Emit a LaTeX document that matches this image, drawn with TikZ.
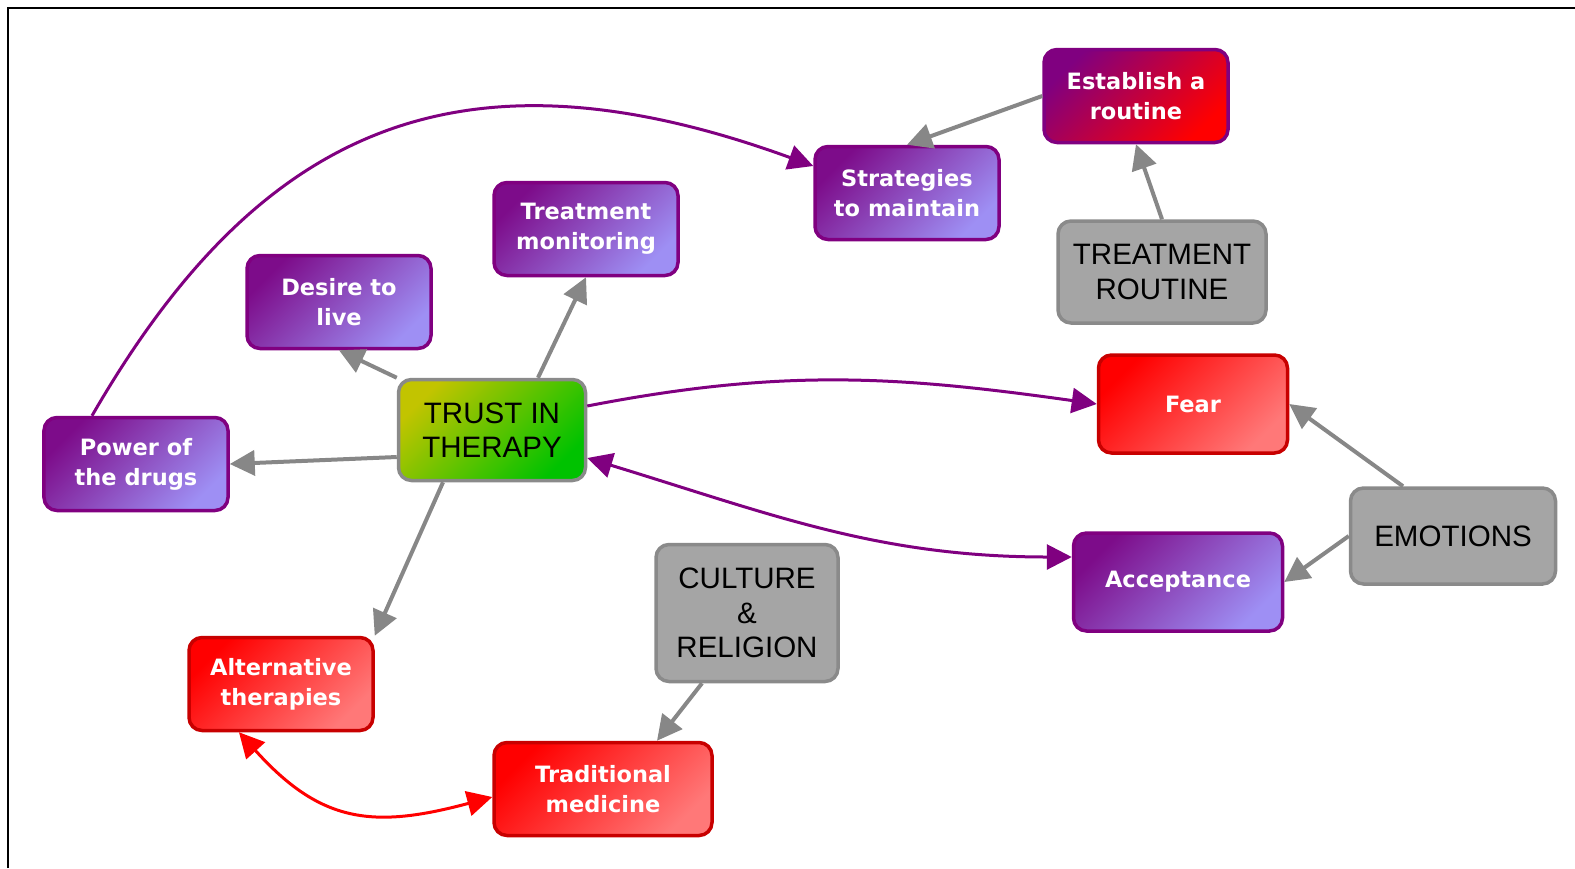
\documentclass[tikz,border=0pt]{standalone}
\usepackage{fontspec}
\setmainfont{Liberation Sans}
\newfontfamily\policeblanche{DejaVu Sans}
\usetikzlibrary{arrows.meta,calc}
\definecolor{violetfonce}{HTML}{7D0C8A}
\definecolor{lavande}{HTML}{9E8FF4}
\definecolor{bordviolet}{HTML}{800080}
\definecolor{rougevif}{HTML}{FF0000}
\definecolor{rougeclair}{HTML}{FF7878}
\definecolor{bordrouge}{HTML}{C80000}
\definecolor{grisfond}{HTML}{A5A5A5}
\definecolor{grisbord}{HTML}{8A8A8A}
\definecolor{grisfleche}{HTML}{878787}
\definecolor{vertjaune}{HTML}{C2C400}
\definecolor{vertvif}{HTML}{00C200}
\begin{document}
\begin{tikzpicture}[x=0.2mm,y=0.2mm]
			\tikzstyle{bulle}=[rounded corners=2.6mm,line width=0.7mm,align=center,inner sep=0pt,minimum width=36.8mm,minimum height=18.6mm]
			\tikzstyle{bulleviolette}=[bulle,draw=bordviolet,top color=violetfonce,bottom color=lavande,shading angle=45,text=white,font=\policeblanche\bfseries\fontsize{12.8}{17}\selectfont]
			\tikzstyle{bullerouge}=[bulle,draw=bordrouge,top color=rougevif,bottom color=rougeclair,shading angle=45,text=white,font=\policeblanche\bfseries\fontsize{12.8}{17}\selectfont]
			\tikzstyle{bullegrise}=[bulle,draw=grisbord,fill=grisfond,text=black,font=\fontsize{16.8}{19.6}\selectfont]
			\tikzstyle{fleche}=[line width=0.8mm,draw=grisfleche,-{Triangle[length=5mm,width=5mm]}]
			\tikzstyle{flecheviolette}=[line width=0.6mm,draw=bordviolet,-{Triangle[length=5mm,width=5mm]}]
			\tikzstyle{flecherouge}=[line width=0.6mm,draw=rougevif,{Triangle[length=5mm,width=5mm]}-{Triangle[length=5mm,width=5mm]}]
			\useasboundingbox (0,0) rectangle (1575,-868);
			\draw[line width=0.5mm] (8,-868)--(8,-8)--(1575,-8);
			\node[bulle,draw=grisbord,top color=vertjaune,bottom color=vertvif,shading angle=45,font=\fontsize{16.8}{19.6}\selectfont,minimum width=37.4mm,minimum height=20.2mm] (Trust) at (492,-430) {TRUST IN\\THERAPY};
			\node[bulleviolette] (Monit) at (586,-229) {Treatment\\monitoring};
			\node[bulleviolette] (Desire) at (339,-302) {Desire to\\live};
			\node[bulleviolette] (Power) at (136,-464) {Power of\\the drugs};
			\node[bulleviolette] (Strat) at (907,-193) {Strategies\\to maintain};
			\node[bulle,draw=bordviolet,top color=bordviolet,bottom color=red,shading angle=45,text=white,font=\policeblanche\bfseries\fontsize{12.8}{17}\selectfont] (Estab) at (1136,-96) {Establish a\\routine};
			\node[bullegrise,minimum width=41.6mm,minimum height=20.4mm] (Routine) at (1162,-272) {TREATMENT\\ROUTINE};
			\node[bullerouge,minimum width=37.8mm,minimum height=19.6mm] (Fear) at (1193,-404) {Fear};
			\node[bulleviolette,minimum width=41.8mm,minimum height=19.6mm] (Accept) at (1178,-582) {Acceptance};
			\node[bullegrise,minimum width=41mm,minimum height=19.2mm] (Emot) at (1453,-536) {EMOTIONS};
			\node[bullerouge] (Alt) at (281,-684) {Alternative\\therapies};
			\node[bullerouge,minimum width=43.6mm] (Trad) at (603,-789) {Traditional\\medicine};
			\node[bullegrise,minimum width=36.4mm,minimum height=27.4mm] (Culture) at (747,-613) {CULTURE\\\&\\RELIGION};
			\draw[fleche] (Routine.north)--(Estab.south);
			\draw[fleche] (Estab.west)--(Strat.north);
			\draw[fleche] ($(Trust.north)+(46,0)$)--(Monit.south);
			\draw[fleche] (Trust.north west)--(Desire.south);
			\draw[fleche] ($(Trust.west)+(0,-27)$)--(Power.east);
			\draw[fleche] ($(Trust.south)+(-49,0)$)--(Alt.north east);
			\draw[fleche] ($(Culture.south)+(-45,0)$)--($(Trad.north)+(54,0)$);
			\draw[fleche] ($(Emot.north)+(-50,0)$)--(Fear.east);
			\draw[fleche] (Emot.west)--(Accept.east);
			\draw[flecheviolette] ($(Trust.east)+(0,24)$) to[out=11,in=172] (Fear.west);
			\draw[flecheviolette,{Triangle[length=5mm,width=5mm]}-{Triangle[length=5mm,width=5mm]}] ($(Trust.east)+(0,-28)$) to[out=-17,in=180] ($(Accept.west)+(0,25)$);
			\draw[flecheviolette] ($(Power.north)+(-44,0)$) .. controls +(60:330) and +(160:380) .. ($(Strat.west)+(0,27)$);
			\draw[flecherouge] ($(Alt.south)+(-42,0)$) to[out=-48,in=195,looseness=1.2] ($(Trad.west)+(0,-8)$);
		\end{tikzpicture}
\end{document}
